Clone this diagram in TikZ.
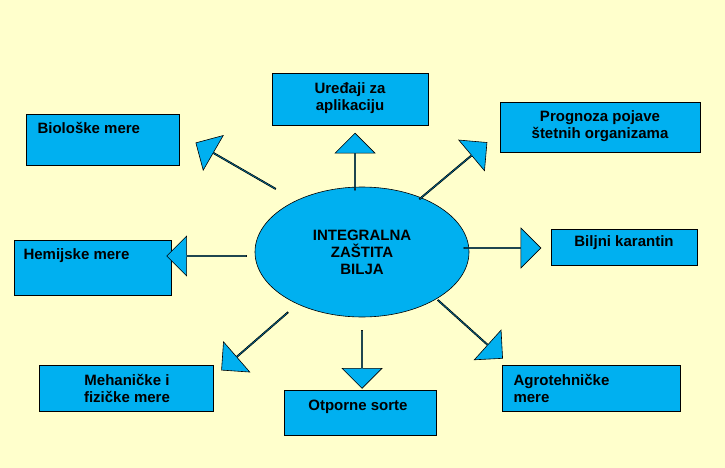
\documentclass[tikz,border=0pt]{standalone}
\usepackage{fontspec}
\setmainfont{Liberation Sans}
\usetikzlibrary{shapes.geometric,shapes.arrows,calc}
\definecolor{bg}{RGB}{255,255,204}
\definecolor{cy}{RGB}{0,176,240}
\tikzset{
  box/.style={draw=black,fill=cy,line width=0.6pt,font=\bfseries\fontsize{15}{17}\selectfont},
  barrow/.style={draw=black,fill=cy,line width=0.6pt,single arrow,minimum width=40pt,single arrow head extend=9pt,inner sep=0pt,single arrow tip angle=90}
}
\begin{document}
\begin{tikzpicture}[x=1pt,y=-1pt]
\useasboundingbox (0,0) rectangle (725,468);
\fill[bg] (0,0) rectangle (725,468);
\node[box,draw,ellipse,minimum width=214pt,minimum height=130pt,align=center,inner sep=0pt] (c) at (362,252) {INTEGRALNA\\ZAŠTITA\\BILJA};
\draw[box] (272,73) rectangle (428,125);
\node[font=\bfseries\fontsize{15}{17}\selectfont,align=center] (u) at (350,98) {Uređaji za\\aplikaciju};
\draw[box] (26,114) rectangle (179,165);
\node[font=\bfseries\fontsize{15}{17}\selectfont,anchor=west] (b) at (34,128) {Biološke mere};
\draw[box] (500,102) rectangle (700,152);
\node[font=\bfseries\fontsize{15}{17}\selectfont,align=center] (p) at (600,126) {Prognoza pojave\\štetnih organizama};
\draw[box] (14,240) rectangle (171,295);
\node[font=\bfseries\fontsize{15}{17}\selectfont,anchor=west] (h) at (20,256) {Hemijske mere};
\draw[box] (551,229) rectangle (697,265);
\node[font=\bfseries\fontsize{15}{17}\selectfont] (k) at (624,243) {Biljni karantin};
\draw[box] (39,365) rectangle (213,411);
\node[font=\bfseries\fontsize{15}{17}\selectfont,align=center] (m) at (127,388) {Mehaničke i\\fizičke mere};
\draw[box] (284,390) rectangle (436,435);
\node[font=\bfseries\fontsize{15}{17}\selectfont] (o) at (358,407) {Otporne sorte};
\draw[box] (502,365) rectangle (680,411);
\node[font=\bfseries\fontsize{15}{17}\selectfont,align=left,anchor=west] (a) at (510,388) {Agrotehničke\\mere};
\node[barrow,minimum height=57pt,rotate=90] (a1) at (355,162) {};
\node[barrow,minimum height=92pt,rotate=150] (a2) at (236,166) {};
\node[barrow,minimum height=88pt,rotate=40] (a3) at (453,171) {};
\node[barrow,minimum height=80pt,rotate=180] (a4) at (207,256) {};
\node[barrow,minimum height=77pt,rotate=0] (a5) at (502,248) {};
\node[barrow,minimum height=88pt,rotate=-139] (a6) at (255,341) {};
\node[barrow,minimum height=58pt,rotate=-90] (a7) at (362,359) {};
\node[barrow,minimum height=87pt,rotate=-42] (a8) at (470,329) {};
\end{tikzpicture}
\end{document}
